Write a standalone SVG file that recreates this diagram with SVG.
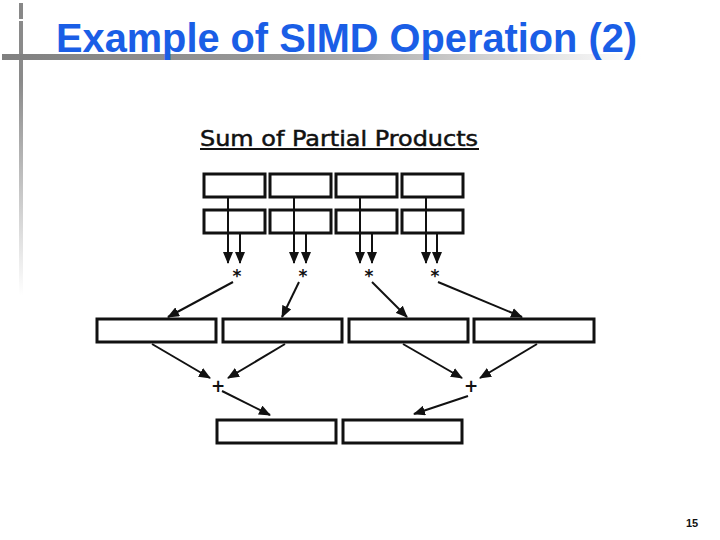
<svg xmlns="http://www.w3.org/2000/svg" width="720" height="540" viewBox="0 0 720 540">
<defs>
<linearGradient id="hbar" x1="0" y1="0" x2="1" y2="0">
<stop offset="0" stop-color="#808080"/>
<stop offset="0.45" stop-color="#9a9a9a"/>
<stop offset="1" stop-color="#ffffff"/>
</linearGradient>
<linearGradient id="vbar" x1="0" y1="0" x2="0" y2="1">
<stop offset="0" stop-color="#8a8a8a"/>
<stop offset="1" stop-color="#ffffff"/>
</linearGradient>
<marker id="ah" markerUnits="userSpaceOnUse" markerWidth="12" markerHeight="10" refX="11" refY="5" orient="auto">
<path d="M0,0 L12,5 L0,10 Z" fill="#111"/>
</marker>
<style>
.box{fill:#fff;stroke:#111;stroke-width:3}
.ln{stroke:#111;stroke-width:2;fill:none;marker-end:url(#ah)}
.op{font-family:"DejaVu Sans",sans-serif;font-weight:bold;font-size:17px;fill:#111;text-anchor:middle}
</style>
</defs>
<rect width="720" height="540" fill="#fff"/>
<g id="decor">
<rect x="19" y="3" width="4" height="16" fill="#888"/>
<rect x="19" y="21" width="4" height="60" fill="#8a8a8a"/>
<rect x="19" y="80" width="4" height="215" fill="url(#vbar)"/>
<rect x="2" y="54" width="640" height="6" fill="url(#hbar)"/>
</g>
<text x="56" y="52" font-family="Liberation Sans, Arial, sans-serif" font-weight="bold" font-size="40" fill="#1a5ee6" textLength="581" lengthAdjust="spacingAndGlyphs">Example of SIMD Operation (2)</text>
<text x="200" y="146" font-family="DejaVu Sans, sans-serif" font-size="21" fill="#111" stroke="#111" stroke-width="0.5" textLength="278" lengthAdjust="spacingAndGlyphs">Sum of Partial Products</text>
<rect x="200" y="148" width="279" height="2" fill="#111"/>
<g id="row1">
<rect id="a1" class="box" x="204" y="174" width="61" height="23"/>
<rect id="a2" class="box" x="270" y="174" width="61" height="23"/>
<rect id="a3" class="box" x="336" y="174" width="61" height="23"/>
<rect id="a4" class="box" x="402" y="174" width="61" height="23"/>
</g>
<g id="row2">
<rect id="b1" class="box" x="204" y="210" width="61" height="23"/>
<rect id="b2" class="box" x="270" y="210" width="61" height="23"/>
<rect id="b3" class="box" x="336" y="210" width="61" height="23"/>
<rect id="b4" class="box" x="402" y="210" width="61" height="23"/>
</g>
<g id="ops">
<text class="op" x="237" y="282">*</text>
<text class="op" x="303" y="282">*</text>
<text class="op" x="369" y="282">*</text>
<text class="op" x="435" y="282">*</text>
<text class="op" x="218" y="392">+</text>
<text class="op" x="471" y="392">+</text>
</g>
<g id="row3">
<rect id="c1" class="box" x="97" y="319" width="119" height="23"/>
<rect id="c2" class="box" x="223" y="319" width="119" height="23"/>
<rect id="c3" class="box" x="349" y="319" width="119" height="23"/>
<rect id="c4" class="box" x="474" y="319" width="120" height="23"/>
</g>
<g id="row4">
<rect id="d1" class="box" x="217" y="420" width="119" height="23"/>
<rect id="d2" class="box" x="343" y="420" width="119" height="23"/>
</g>
<g id="connectors">
<line class="ln" x1="228" y1="198" x2="228" y2="263"/>
<line class="ln" x1="240" y1="234" x2="240" y2="263"/>
<line class="ln" x1="294" y1="198" x2="294" y2="263"/>
<line class="ln" x1="306" y1="234" x2="306" y2="263"/>
<line class="ln" x1="360" y1="198" x2="360" y2="263"/>
<line class="ln" x1="372" y1="234" x2="372" y2="263"/>
<line class="ln" x1="426" y1="198" x2="426" y2="263"/>
<line class="ln" x1="437" y1="234" x2="437" y2="263"/>
<line class="ln" x1="233" y1="282" x2="168" y2="317"/>
<line class="ln" x1="299" y1="282" x2="282" y2="317"/>
<line class="ln" x1="372" y1="282" x2="407" y2="317"/>
<line class="ln" x1="438" y1="282" x2="522" y2="317"/>
<line class="ln" x1="152" y1="344" x2="210" y2="378"/>
<line class="ln" x1="285" y1="344" x2="228" y2="378"/>
<line class="ln" x1="403" y1="344" x2="462" y2="378"/>
<line class="ln" x1="537" y1="344" x2="480" y2="378"/>
<line class="ln" x1="222" y1="391" x2="270" y2="415"/>
<line class="ln" x1="468" y1="396" x2="414" y2="414"/>
</g>
<text x="692" y="527" font-family="Liberation Sans, Arial, sans-serif" font-weight="bold" font-size="11" fill="#111" text-anchor="middle">15</text>
</svg>
